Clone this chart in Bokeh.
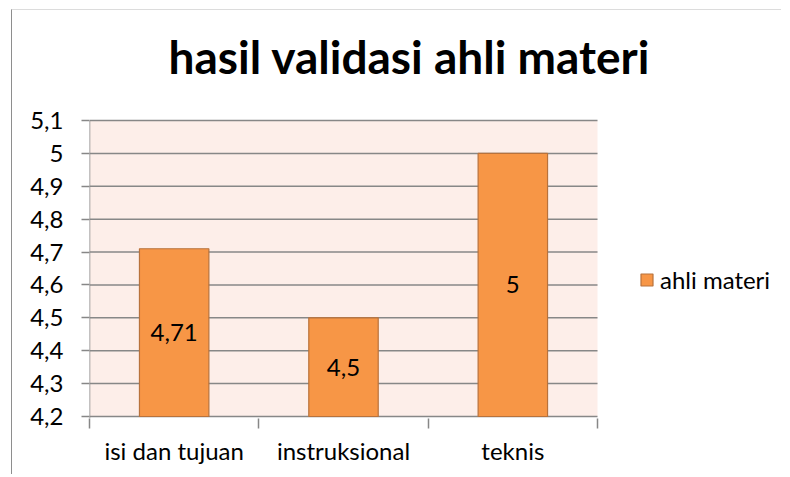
from bokeh.plotting import figure
from bokeh.models import FixedTicker, Legend, LegendItem, Label, ColumnDataSource
from bokeh.core.properties import value
from bokeh.embed import file_html
from bokeh.resources import INLINE

title_text = "hasil validasi ahli materi"
series_name = "ahli materi"
categories = ["isi dan tujuan", "instruksional", "teknis"]
values = [4.71, 4.5, 5.0]
value_labels = ["4,71", "4,5", "5"]
y_ticks = [4.2, 4.3, 4.4, 4.5, 4.6, 4.7, 4.8, 4.9, 5.0, 5.1]
y_tick_labels = ["4,2", "4,3", "4,4", "4,5", "4,6", "4,7", "4,8", "4,9", "5", "5,1"]
y_min, y_max = 4.2, 5.1

FONT = "Lato"
GRID = "#878787"
LBL = "24px"

# layout (pixels)
W, H = 770, 465
PAD = 2                           # keeps the bottom gridline fully visible
TOP_SPACE = 105                   # room above the shaded area for the title
B_LEFT, B_RIGHT, B_TOP, B_BOTTOM = 77, 5, 5, 59 - PAD
PLOT_W, PLOT_H = 508, 296         # size of the shaded plot area
FRAME_W = W - B_LEFT - B_RIGHT    # frame also hosts the legend and the title
n = len(categories)
x_end = n * FRAME_W / PLOT_W
unit = (y_max - y_min) / PLOT_H
y_start = y_min - PAD * unit
y_end = y_max + TOP_SPACE * unit

xs = [i + 0.5 for i in range(n)]
mids = [(y_min + v) / 2 for v in values]
src = ColumnDataSource(dict(x=xs, top=values, mid=mids, lab=value_labels))

p = figure(width=W, height=H, x_range=(0, x_end), y_range=(y_start, y_end),
           output_backend="svg", toolbar_location=None,
           min_border_left=B_LEFT, min_border_right=B_RIGHT,
           min_border_top=B_TOP, min_border_bottom=B_BOTTOM)
p.styles = {"margin-left": "11px", "margin-top": "9px",
            "border-left": "1.5px solid #8e8e8e", "border-top": "1px solid #dcdcdc"}
p.outline_line_color = None
p.background_fill_color = "white"
p.border_fill_color = "white"

# shaded plot area, gridlines and value axis line over the category span
p.quad(left=0, right=n, bottom=y_min, top=y_max, fill_color="#FDEEE9", line_color=None)
p.segment(x0=[0] * len(y_ticks), x1=[n] * len(y_ticks), y0=y_ticks, y1=y_ticks,
          line_color=GRID, line_width=1.5)
p.segment(x0=[0], x1=[0], y0=[y_start], y1=[y_max], line_color=GRID, line_width=1.5)

bars = p.vbar(x="x", top="top", bottom=y_min, width=0.41, source=src,
              fill_color="#F79646", line_color="#B8723C", line_width=1.2)
p.text(x="x", y="mid", text="lab", source=src, text_align="center", text_baseline="middle",
       text_font=value(FONT), text_font_size=LBL, text_color="black")

# y axis
p.yaxis.ticker = FixedTicker(ticks=y_ticks)
p.yaxis.major_label_overrides = {t: l for t, l in zip(y_ticks, y_tick_labels)}
p.yaxis.major_tick_in = 0
p.yaxis.major_tick_out = 8
p.yaxis.minor_tick_line_color = None
p.yaxis.axis_line_color = None
p.yaxis.major_tick_line_color = GRID
p.yaxis.major_tick_line_width = 1.5
p.yaxis.major_label_standoff = 18
p.yaxis.major_label_text_font = FONT
p.yaxis.major_label_text_font_size = LBL
p.yaxis.major_label_text_color = "black"

# x axis: labels at centres, ticks at category boundaries
p.xaxis.ticker = FixedTicker(ticks=xs, minor_ticks=list(range(n + 1)))
p.xaxis.major_label_overrides = {x: c for x, c in zip(xs, categories)}
p.xaxis.major_tick_in = 0
p.xaxis.major_tick_out = 0
p.xaxis.minor_tick_in = 0
p.xaxis.minor_tick_out = 8 + PAD
p.xaxis.axis_line_color = None
p.xaxis.minor_tick_line_color = GRID
p.xaxis.minor_tick_line_width = 1.5
p.xaxis.major_label_standoff = 7
p.xaxis.major_label_text_font = FONT
p.xaxis.major_label_text_font_size = LBL
p.xaxis.major_label_text_color = "black"

p.xgrid.grid_line_color = None
p.ygrid.grid_line_color = None

# chart title (screen units, relative to the frame's bottom-left corner)
p.add_layout(Label(x=320, y=PAD + 360, x_units="screen", y_units="screen", text=title_text,
                   text_font=FONT, text_font_size="46px", text_font_style="bold",
                   text_align="center", text_baseline="alphabetic", text_color="black"))

legend = Legend(items=[LegendItem(label=series_name, renderers=[bars])],
                location=(550, 122 + PAD), orientation="vertical",
                padding=0, margin=0, border_line_color=None, background_fill_alpha=0,
                glyph_width=15, glyph_height=15, label_standoff=6, label_height=15,
                label_text_font=FONT, label_text_font_size=LBL, label_text_color="black")
p.add_layout(legend, "center")

open("out.html", "w").write(file_html(p, INLINE))
